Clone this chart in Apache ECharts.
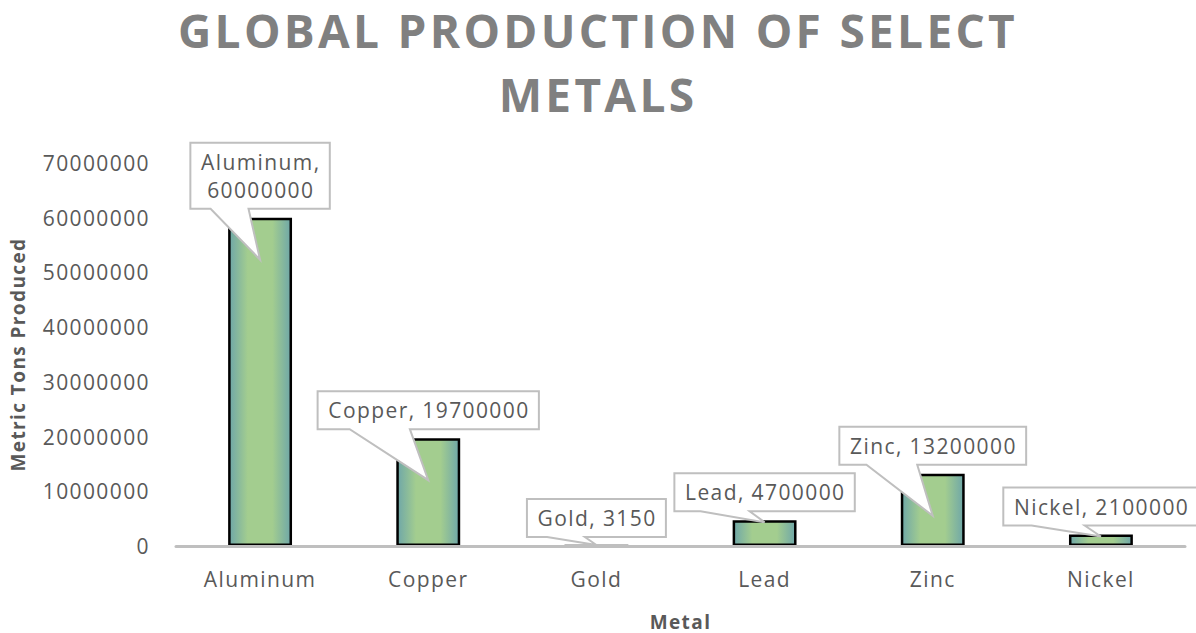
<!DOCTYPE html>
<html>
<head>
<meta charset="utf-8">
<script src="https://cdn.jsdelivr.net/npm/echarts@6/dist/echarts.min.js"></script>
<style>
  html, body { margin: 0; padding: 0; background: #ffffff; }
  #chart { width: 1196px; height: 633px; }
  /* slightly open tracking for all chart text */
  #chart text { letter-spacing: 1.4px; }
  /* wide-spaced capitals for the heading (only text drawn at 46px) */
  #chart text[style*="46px"] { letter-spacing: 3.3px; }
</style>
</head>
<body>
<div id="chart"></div>
<script>
// ---- data ----
const titleLines = ['GLOBAL PRODUCTION OF SELECT', 'METALS'];
const metals = ['Aluminum', 'Copper', 'Gold', 'Lead', 'Zinc', 'Nickel'];
const tonsProduced = [60000000, 19700000, 3150, 4700000, 13200000, 2100000];
const yAxisMin = 0;
const yAxisMax = 70000000;
const yAxisStep = 10000000;
const xAxisTitle = 'Metal';
const yAxisTitle = 'Metric Tons Produced';

// ---- styling ----
const FONT = '"Open Sans", "Noto Sans", sans-serif';
const TEXT_GREY = '#595959';
const LABEL_SIZE = 21;
const LABEL_LINE = 28;
const TRACKING = 1.4;
const PAD_X = 10;
const PAD_Y = 5;
const BOX_GAP = 9;

const measureCtx = document.createElement('canvas').getContext('2d');
measureCtx.font = LABEL_SIZE + 'px ' + FONT;
const textWidth = s => measureCtx.measureText(s).width + TRACKING * s.length;

// Data-label callout: white box with a wedge pointing into the bar
function renderCallout(params, api) {
  const idx = api.value(0);
  const val = api.value(1);
  const top = api.coord([idx, val]);
  const base = api.coord([idx, 0]);
  const cx = top[0];
  const plot = params.coordSys;

  let lines = [metals[idx] + ', ' + val];
  let w = textWidth(lines[0]) + 2 * PAD_X;
  if (cx - w / 2 < plot.x) {
    lines = [metals[idx] + ',', String(val)];
    w = Math.max.apply(null, lines.map(textWidth)) + 2 * PAD_X;
  }
  const h = lines.length * LABEL_LINE + 2 * PAD_Y;
  const bottom = top[1] - BOX_GAP;
  const boxTop = bottom - h;
  const left = cx - w / 2;
  const right = cx + w / 2;
  const barH = base[1] - top[1];
  const tipY = barH > 60 ? top[1] + 42 : Math.min(top[1] + 2, base[1] - 1);

  const pts = [
    [left, boxTop], [right, boxTop], [right, bottom],
    [left + 0.417 * w, bottom], [cx, tipY], [left + 0.145 * w, bottom],
    [left, bottom]
  ];
  return {
    type: 'group',
    children: [
      { type: 'polygon', shape: { points: pts },
        style: { fill: '#ffffff', stroke: '#bfbfbf', lineWidth: 2 } },
      { type: 'text',
        style: { text: lines.join('\n'), x: cx + TRACKING / 2, y: (boxTop + bottom) / 2,
                 align: 'center', verticalAlign: 'middle',
                 fontSize: LABEL_SIZE, fontFamily: FONT, lineHeight: LABEL_LINE,
                 fill: TEXT_GREY } }
    ]
  };
}

const titleStyle = { fontSize: 46, fontWeight: 'bold', color: '#808080',
                     fontFamily: FONT, lineHeight: 46 };

const chart = echarts.init(document.getElementById('chart'), null, { renderer: 'svg' });
chart.setOption({
  animation: false,
  backgroundColor: '#ffffff',
  title: [
    { text: titleLines[0], left: 'center', top: 7, padding: 0, textStyle: titleStyle },
    { text: titleLines[1], left: 'center', top: 71, padding: 0, textStyle: titleStyle }
  ],
  grid: { left: 176, right: 11, top: 163, bottom: 87, outerBoundsMode: 'none' },
  xAxis: {
    type: 'category',
    data: metals,
    z: 5,
    axisLine: { lineStyle: { color: '#bfbfbf', width: 3 } },
    axisTick: { show: false },
    axisLabel: { color: TEXT_GREY, fontSize: LABEL_SIZE, fontFamily: FONT, margin: 22 },
    name: xAxisTitle,
    nameLocation: 'middle',
    nameGap: 66,
    nameTextStyle: { color: TEXT_GREY, fontSize: 19, fontWeight: 'bold', fontFamily: FONT }
  },
  yAxis: {
    type: 'value',
    min: yAxisMin,
    max: yAxisMax,
    interval: yAxisStep,
    axisLine: { show: false },
    axisTick: { show: false },
    splitLine: { show: false },
    axisLabel: { color: TEXT_GREY, fontSize: LABEL_SIZE, fontFamily: FONT, margin: 26,
                 formatter: v => String(v) },
    name: yAxisTitle,
    nameLocation: 'middle',
    nameGap: 149,
    nameTextStyle: { color: TEXT_GREY, fontSize: 19, fontWeight: 'bold', fontFamily: FONT }
  },
  series: [
    {
      type: 'bar',
      data: tonsProduced,
      barWidth: '38%',
      itemStyle: {
        color: new echarts.graphic.LinearGradient(0, 0, 1, 0, [
          { offset: 0, color: '#6fa7a8' },
          { offset: 0.3, color: '#a3cd8f' },
          { offset: 0.7, color: '#a3cd8f' },
          { offset: 1, color: '#6fa7a8' }
        ]),
        borderColor: '#000000',
        borderWidth: 2.5
      }
    },
    {
      type: 'custom',
      data: tonsProduced.map((v, i) => [i, v]),
      encode: { x: 0, y: 1 },
      renderItem: renderCallout,
      clip: false,
      z: 10
    }
  ]
});
</script>
</body>
</html>
